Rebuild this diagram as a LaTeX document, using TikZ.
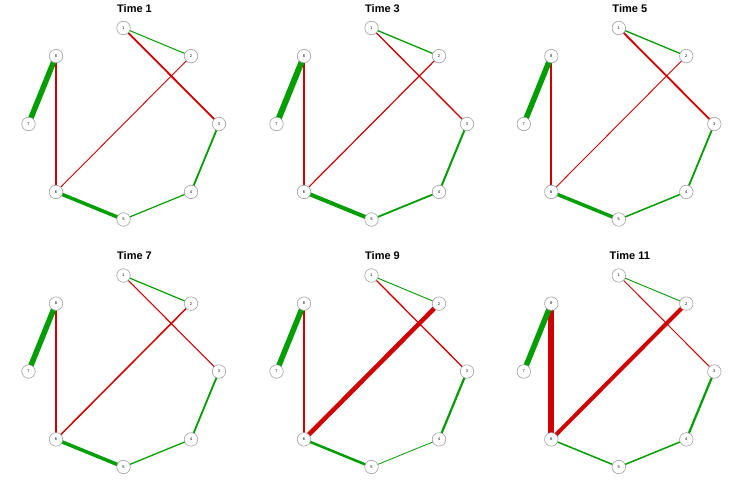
\documentclass[tikz,border=0pt]{standalone}
\usepackage{fontspec}
\setmainfont{Liberation Sans}
\definecolor{eg}{RGB}{0,158,0}
\definecolor{er}{RGB}{208,0,0}
\pgfdeclarelayer{back}
\pgfdeclarelayer{bg}
\pgfsetlayers{back,bg,main}
\tikzset{
  vtx/.style={circle,draw=gray!75,line width=0.6pt,fill=white,minimum size=13.5pt,inner sep=0pt,font=\fontsize{4}{4}\selectfont},
  ttl/.style={font=\bfseries\fontsize{11}{13}\selectfont},
  gedge/.style={draw=eg,line width=#1},
  redge/.style={draw=er,line width=#1}
}
\newcommand\drawpanel[9]{%
  \node[ttl] (title) at (134.5,8.5) {#1};
  \node[vtx] (n1) at (123.5,28) {1};
  \node[vtx] (n2) at (191,56.1) {2};
  \node[vtx] (n3) at (219,124) {3};
  \node[vtx] (n4) at (191,191.9) {4};
  \node[vtx] (n5) at (123.5,219.5) {5};
  \node[vtx] (n6) at (56,191.9) {6};
  \node[vtx] (n7) at (28.5,124) {7};
  \node[vtx] (n8) at (56,56.1) {8};
  \begin{pgfonlayer}{bg}
    \draw[gedge=#2pt] (n1.center) -- (n2.center);
    \draw[redge=#3pt] (n1.center) -- (n3.center);
    \draw[redge=#4pt] (n2.center) -- (n6.center);
    \draw[gedge=#5pt] (n3.center) -- (n4.center);
    \draw[gedge=#6pt] (n4.center) -- (n5.center);
    \draw[gedge=#7pt] (n5.center) -- (n6.center);
    \draw[redge=#8pt] (n6.center) -- (n8.center);
    \draw[gedge=#9pt] (n7.center) -- (n8.center);
  \end{pgfonlayer}
}
\begin{document}
\begin{tikzpicture}[x=1pt,y=-1pt]
  \begin{pgfonlayer}{back}
    \fill[white] (0,0) rectangle (743,495);
  \end{pgfonlayer}
  \useasboundingbox (0,0) rectangle (743,495);
  \begin{scope}[shift={(0,0)},name prefix=a-]
    \drawpanel{Time 1}{1.0}{1.8}{0.9}{1.8}{1.2}{3.5}{2.5}{5.5}
  \end{scope}
  \begin{scope}[shift={(248,0)},name prefix=b-]
    \drawpanel{Time 3}{1.3}{1.3}{1.2}{2.0}{1.8}{4.0}{1.5}{6.0}
  \end{scope}
  \begin{scope}[shift={(495.3,0)},name prefix=c-]
    \drawpanel{Time 5}{1.3}{1.8}{0.9}{1.8}{1.5}{3.5}{1.8}{5.5}
  \end{scope}
  \begin{scope}[shift={(0,247.5)},name prefix=d-]
    \drawpanel{Time 7}{1.2}{1.1}{1.5}{1.8}{1.3}{3.5}{2.5}{5.5}
  \end{scope}
  \begin{scope}[shift={(248,247.5)},name prefix=e-]
    \drawpanel{Time 9}{0.9}{1.3}{4.5}{2.2}{0.8}{2.5}{2.5}{5.5}
  \end{scope}
  \begin{scope}[shift={(495.3,247.5)},name prefix=f-]
    \drawpanel{Time 11}{0.9}{1.0}{4.0}{2.2}{1.5}{1.5}{6.0}{5.5}
  \end{scope}
\end{tikzpicture}
\end{document}
